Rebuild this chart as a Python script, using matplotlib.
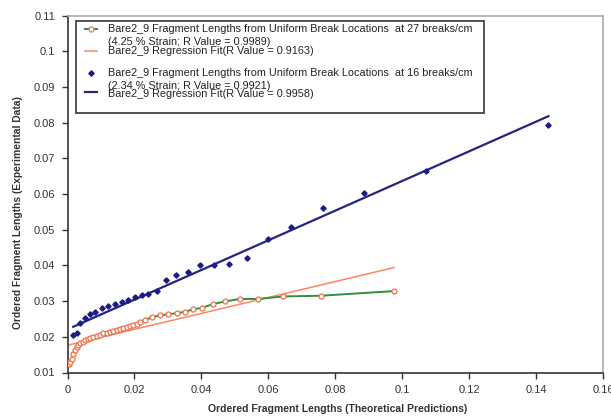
import matplotlib
matplotlib.use("Agg")
import matplotlib.pyplot as plt
from matplotlib.lines import Line2D
from matplotlib.patches import Rectangle

plt.rcParams['font.family'] = ['Liberation Sans', 'DejaVu Sans']

# ---- data ----
blue_x = [0.0017, 0.0027, 0.0037, 0.0052, 0.0067, 0.0082, 0.0102, 0.0122, 0.0142,
          0.0162, 0.0182, 0.0202, 0.0222, 0.0242, 0.0267, 0.0294, 0.0325, 0.0361,
          0.0396, 0.0437, 0.0482, 0.0535, 0.0598, 0.0668, 0.0762, 0.0886, 0.1070,
          0.1437]
blue_y = [0.0205, 0.0210, 0.0238, 0.0252, 0.0264, 0.0270, 0.0280, 0.0287, 0.0292,
          0.0298, 0.0303, 0.0311, 0.0317, 0.0320, 0.0328, 0.0359, 0.0374, 0.0381,
          0.0401, 0.0402, 0.0405, 0.0420, 0.0474, 0.0508, 0.0562, 0.0604, 0.0664,
          0.0792]

orange_x = [0.0003, 0.0008, 0.0012, 0.0017, 0.0022, 0.0027, 0.0032, 0.0037, 0.0045,
            0.0052, 0.0060, 0.0067, 0.0077, 0.0087, 0.0097, 0.0107, 0.0117, 0.0127,
            0.0137, 0.0147, 0.0157, 0.0167, 0.0177, 0.0187, 0.0197, 0.0207, 0.0217,
            0.0232, 0.0252, 0.0277, 0.0300, 0.0326, 0.0350, 0.0376, 0.0401, 0.0436,
            0.0471, 0.0515, 0.0570, 0.0644, 0.0756, 0.0976]
orange_y = [0.0125, 0.0130, 0.0137, 0.0152, 0.0163, 0.0171, 0.0176, 0.0182, 0.0186,
            0.0190, 0.0193, 0.0196, 0.0199, 0.0202, 0.0205, 0.0210, 0.0212, 0.0214,
            0.0216, 0.0219, 0.0222, 0.0225, 0.0228, 0.0230, 0.0233, 0.0236, 0.0242,
            0.0247, 0.0255, 0.0260, 0.0263, 0.0266, 0.0270, 0.0277, 0.0281, 0.0292,
            0.0299, 0.0306, 0.0306, 0.0313, 0.0315, 0.0328]

red_fit_x = [0.0003, 0.0976]
red_fit_y = [0.0177, 0.0394]
blue_fit_x = [0.0017, 0.1437]
blue_fit_y = [0.0228, 0.0818]

x_ticks = [0, 0.02, 0.04, 0.06, 0.08, 0.1, 0.12, 0.14, 0.16]
x_tick_labels = ['0', '0.02', '0.04', '0.06', '0.08', '0.1', '0.12', '0.14', '0.16']
y_ticks = [0.01, 0.02, 0.03, 0.04, 0.05, 0.06, 0.07, 0.08, 0.09, 0.1, 0.11]
y_tick_labels = ['0.01', '0.02', '0.03', '0.04', '0.05', '0.06', '0.07', '0.08',
                 '0.09', '0.1', '0.11']

legend_labels = [
    'Bare2_9 Fragment Lengths from Uniform Break Locations  at 27 breaks/cm',
    '(4.25 % Strain; R Value = 0.9989)',
    'Bare2_9 Regression Fit(R Value = 0.9163)',
    'Bare2_9 Fragment Lengths from Uniform Break Locations  at 16 breaks/cm',
    '(2.34 % Strain; R Value = 0.9921)',
    'Bare2_9 Regression Fit(R Value = 0.9958)',
]
x_label = 'Ordered Fragment Lengths (Theoretical Predictions)'
y_label = 'Ordered Fragment Lengths (Experimental Data)'

# ---- styles ----
GREEN = '#2f8f3a'
ORANGE = '#f0704a'
SALMON = '#ff8466'
NAVY = '#25257f'
BLUE_PT = '#1c1c86'

W, H = 611, 416
fig = plt.figure(figsize=(W / 100, H / 100), dpi=100)
ax = fig.add_axes([67.5 / W, 1 - 372.5 / H, (603 - 67.5) / W, (372.5 - 15.5) / H])

ax.plot(blue_fit_x, blue_fit_y, color=NAVY, lw=1.6, zorder=2)
ax.plot(red_fit_x, red_fit_y, color=SALMON, lw=1.1, zorder=2)
ax.plot(orange_x, orange_y, color=GREEN, lw=1.4, zorder=3)
ax.plot(orange_x, orange_y, ls='none', marker='o', ms=3.6, mfc='white',
        mec=ORANGE, mew=0.9, zorder=4)
ax.plot(blue_x, blue_y, ls='none', marker='D', ms=2.7, color=BLUE_PT, zorder=4)

ax.set_xlim(0, 0.16)
ax.set_ylim(0.01, 0.11)
ax.set_xticks(x_ticks)
ax.set_xticklabels(x_tick_labels)
ax.set_yticks(y_ticks)
ax.set_yticklabels(y_tick_labels)
ax.tick_params(direction='out', length=4, width=1, colors='#333333',
               labelsize=8, pad=5)
for s in ['left', 'bottom']:
    ax.spines[s].set_color('#333333')
    ax.spines[s].set_linewidth(1.2)
for s in ['top', 'right']:
    ax.spines[s].set_color('#aaaaaa')
    ax.spines[s].set_linewidth(1.2)

fig.text(338 / W, 1 - 409 / H, x_label, ha='center', va='center',
         fontsize=7.5, fontweight='bold', color='#333333')
fig.text(18 / W, 1 - 213 / H, y_label, ha='center', va='center', rotation=90,
         fontsize=7.4, fontweight='bold', color='#333333')

# ---- legend (Excel-style layout) ----
def fx(x):
    return x / W


def fy(y):
    return 1 - y / H


fig.add_artist(Rectangle((fx(75.7), fy(113)), (484 - 75.7) / W, (113 - 20.7) / H,
                         transform=fig.transFigure, facecolor='white',
                         edgecolor='#444444', lw=1.3, zorder=5))
tkw = dict(fontsize=7.8, color='#222222', va='center', ha='left', zorder=7)
text_y = [29, 42, 51.5, 72.5, 86, 94]
for lab, yy in zip(legend_labels, text_y):
    fig.text(fx(107.5), fy(yy), lab, **tkw)

fig.add_artist(Line2D([fx(85), fx(97)], [fy(29), fy(29)], color=GREEN, lw=1.4,
                      transform=fig.transFigure, zorder=6))
fig.add_artist(Line2D([fx(91)], [fy(29)], ls='none', marker='o', ms=3.6, mfc='white',
                      mec=ORANGE, mew=0.9, transform=fig.transFigure, zorder=6))
fig.add_artist(Line2D([fx(85), fx(97)], [fy(51), fy(51)], color=SALMON, lw=1.1,
                      transform=fig.transFigure, zorder=6))
fig.add_artist(Line2D([fx(91)], [fy(72.5)], ls='none', marker='D', ms=2.7,
                      color=BLUE_PT, transform=fig.transFigure, zorder=6))
fig.add_artist(Line2D([fx(85), fx(97)], [fy(92), fy(92)], color=NAVY, lw=1.6,
                      transform=fig.transFigure, zorder=6))

fig.savefig('out.png', dpi=100)
